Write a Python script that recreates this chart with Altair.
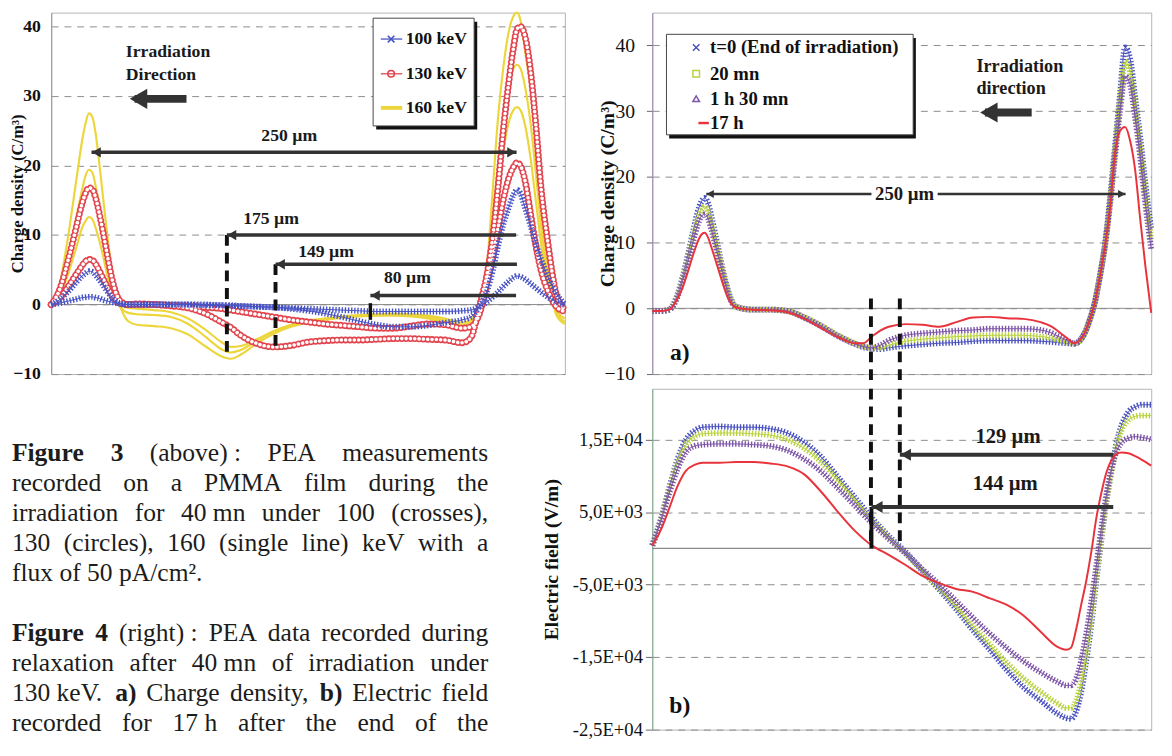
import altair as alt
import pandas as pd

FONT = "Liberation Serif"

# ------------------------------------------------------------------ Figure 3 (charge density during irradiation)
X3 = [0, 5, 10, 15, 18, 20, 22, 24, 26, 28, 30, 33, 36, 40, 45, 50, 60, 70, 80, 90,
      100, 105, 110, 120, 130, 140, 150, 160, 170, 180, 190, 200, 210, 220, 230, 240,
      245, 250, 255, 258, 261, 264, 267, 270, 272, 274, 277, 280, 283, 286, 290, 295, 300]

KEV100_A = [0, 0.7, 1.9, 3.3, 4.1, 4.5, 4.8, 4.7, 4.2, 3.6,
            2.9, 1.8, 0.9, 0.2, 0, 0, 0, 0, 0, -0.1,
            -0.1, -0.2, -0.2, -0.3, -0.4, -0.6, -0.9, -1.3, -1.8, -2.4,
            -2.9, -3.2, -3.2, -3.0, -2.6, -2.2, -1.8, -0.3, 2.3, 5,
            8.5, 11.5, 13.8, 15.8, 16.5, 16, 13.7, 11.3, 8.8, 6.6,
            4, 1.6, 0]
KEV100_B = [0, 0.2, 0.5, 0.8, 1.0, 1.05, 1.1, 1.1, 1.0, 0.9,
            0.7, 0.5, 0.3, 0.1, 0, 0, 0, 0, 0, 0,
            -0.1, -0.1, -0.2, -0.3, -0.4, -0.5, -0.6, -0.7, -0.8, -0.9,
            -1.0, -1.0, -1.0, -1.0, -1.0, -0.9, -0.8, -0.3, 0.5, 1.1,
            1.8, 2.6, 3.3, 3.9, 4.1, 4.0, 3.6, 3.0, 2.4, 1.8,
            1.1, 0.4, -0.1]
KEV130_A = [0, 2.2, 6.5, 11.5, 14.5, 16, 16.8, 16.6, 15.3, 13.2,
            10.8, 6.8, 3.2, 0.6, 0, 0.1, 0, -0.2, -0.5, -1.3,
            -2.6, -3.3, -4.3, -5.6, -6.1, -5.9, -5.4, -5.2, -5.1, -5.1,
            -5.0, -4.9, -4.9, -5.0, -5.1, -5.5, -4.8, -0.3, 5, 10,
            17, 25, 31.5, 37, 39.6, 40, 38.3, 33.5, 26, 17,
            9, 1.5, -0.7]
KEV130_B = [0, 0.9, 2.6, 4.5, 5.6, 6.2, 6.5, 6.4, 5.8, 4.9,
            3.9, 2.4, 1.1, 0.2, 0, 0, 0, -0.1, -0.2, -0.4,
            -0.6, -0.8, -1.0, -1.4, -1.8, -2.2, -2.5, -2.8, -3.0, -3.2,
            -3.4, -3.4, -3.1, -2.8, -2.9, -3.4, -3.2, -1.4, 3.5, 7,
            11, 15, 18, 19.8, 20.4, 20, 17.5, 13, 8.5, 5,
            2, -0.3, -1]
KEV160_A = [0, 3, 10, 18.5, 23.5, 26, 27.5, 27, 24.5, 20.5,
            16, 9.5, 4, 0, -2.4, -2.9, -3.1, -3.4, -4.3, -6.0,
            -7.5, -7.8, -7.3, -5.6, -4.2, -3.2, -2.6, -2.2, -1.9, -1.7,
            -1.6, -1.6, -1.7, -2.0, -2.7, -3.4, -3.0, -0.5, 7, 17,
            27, 34, 39, 41.5, 42, 41, 36, 31, 23, 14,
            5, -1.5, -2.8]
KEV160_B = [0, 2, 7, 13, 16.5, 18.5, 19.4, 19, 17, 14.5,
            11.5, 6.5, 2.5, -0.3, -1.2, -1.4, -1.5, -1.8, -2.8, -4.6,
            -6.5, -6.9, -6.6, -5.2, -3.9, -3.0, -2.4, -2.0, -1.8, -1.6,
            -1.5, -1.4, -1.5, -1.8, -2.3, -2.9, -2.5, -0.3, 5, 13,
            20, 26.5, 31.5, 34, 34.5, 34, 31, 26, 19, 11.5,
            4, -1, -2.5]
KEV160_C = [0, 1.3, 4.5, 8.5, 11, 12, 12.6, 12.3, 11, 9.3,
            7.3, 4, 1.5, 0, -0.5, -0.6, -0.8, -1.1, -2.0, -3.6,
            -5.5, -6.1, -6.0, -5.0, -3.8, -2.9, -2.3, -2.0, -1.7, -1.5,
            -1.4, -1.3, -1.4, -1.6, -2.0, -2.6, -2.2, 0, 4.5, 10.5,
            16.5, 22, 26, 28, 28.4, 28, 25.5, 21, 15, 9,
            3, -0.8, -2]
GROUPS3 = ["100 keV", "130 keV", "160 keV"]

# legend of figure 3 (data units)
LEG3_BOX = (188.0, 247.0, 41.2, 25.7)
LEG3_Y = [38.2, 33.2, 28.3]
LEG3_SYM_X = 198.5
LEG3_LINE_X = (192.5, 205.0)
LEG3_TEXT_X = 207.0

# annotations of figure 3 (data units: µm, C/m3)
ARROW3_TIP = [23.5, 102.6, 131.0, 186.4]
ARROW3_TAIL = [271.8, 271.5, 272.0, 271.5]
ARROW3_Y = [21.9, 10.0, 5.8, 1.3]
LABEL3_TEXT = ["250 µm", "175 µm", "149 µm", "80 µm"]
LABEL3_X = [139, 128.4, 160.5, 208]
LABEL3_Y = [24.2, 12.3, 7.6, 3.8]
DASH3_X = [102.6, 131.0]
DASH3_TOP = [10.0, 5.8]
DASH3_BOT = [-6.8, -6.5]
DIR3_TEXT = ["Irradiation", "Direction"]
DIR3_X = 43.6
DIR3_Y = [36.3, 33.0]
DIR3_ARROW = (48.7, 79.0, 29.6)

# ------------------------------------------------------------------ Figure 4 (relaxation, 130 keV)
X4 = [0, 5, 10, 15, 18, 21, 24, 27, 29, 31,
      33, 35, 37, 40, 43, 46, 50, 60, 70, 80,
      90, 100, 110, 120, 125, 130, 135, 140, 150, 160,
      170, 180, 190, 200, 210, 220, 230, 236, 240, 245,
      250, 253, 256, 259, 262, 265, 268, 271, 274, 277,
      280, 283, 286, 289, 292, 295.5]
RHO_T0 = [-0.4, -0.4, -0.2, 2.2, 4.8, 8, 11.5, 14.8, 16.2, 16.8,
          16, 14, 11.6, 8, 4.5, 1.8, 0.2, -0.2, -0.2, -0.4,
          -1.4, -2.7, -4.2, -5.4, -5.9, -6.1, -6.2, -6.0, -5.7, -5.5,
          -5.3, -5.2, -5.0, -4.9, -4.9, -4.9, -5.0, -5.1, -5.2, -5.3,
          -5.4, -5.0, -3.8, -1.8, 0.8, 4.8, 9.6, 16.5, 24.5, 32.5,
          39.7, 38, 32, 26, 19, 12]
RHO_20 = [-0.4, -0.4, -0.2, 2.0, 4.5, 7.5, 10.8, 13.8, 15.0, 15.5,
          14.8, 13, 10.8, 7.5, 4.2, 1.6, 0.2, -0.2, -0.2, -0.4,
          -1.3, -2.6, -4.1, -5.3, -5.8, -6.0, -6.0, -5.6, -5.0, -4.7,
          -4.5, -4.3, -4.2, -4.1, -4.1, -4.1, -4.3, -4.5, -4.8, -5.1,
          -5.4, -5.0, -3.8, -1.8, 0.8, 4.8, 9.5, 16, 24, 31.5,
          37.5, 36, 30.5, 24.5, 17.5, 10.5]
RHO_90 = [-0.4, -0.4, -0.2, 1.8, 4.2, 7, 10, 12.8, 14, 14.3,
          13.7, 12, 10, 7, 4, 1.5, 0.2, -0.2, -0.2, -0.4,
          -1.4, -2.7, -4.2, -5.4, -5.8, -6.0, -5.6, -4.9, -4.1, -3.8,
          -3.6, -3.4, -3.3, -3.1, -3.1, -3.1, -3.3, -3.7, -4.2, -4.8,
          -5.3, -4.9, -3.8, -1.8, 0.8, 4.7, 9.3, 15.5, 23, 30,
          35.3, 34, 29, 23, 16, 9]
RHO_17H = [-0.4, -0.4, -0.2, 1.5, 3.2, 5.5, 8, 10.2, 11.2, 11.5,
           10.8, 9.3, 7.7, 5.2, 2.8, 1.0, 0.1, -0.2, -0.3, -0.6,
           -1.6, -3.0, -4.4, -5.3, -5.3, -4.3, -3.4, -2.8, -2.4, -2.5,
           -2.8, -2.1, -1.4, -1.3, -1.5, -1.6, -2.1, -2.7, -3.4, -4.4,
           -5.3, -4.9, -3.8, -1.8, 0.8, 4.7, 9.3, 15, 23.5, 27,
           27.6, 25.5, 21, 13.5, 6.5, -0.7]

X4B = [0, 5, 10, 15, 20, 25, 30, 40, 50, 60,
       70, 80, 90, 100, 110, 120, 130, 140, 150, 160,
       170, 180, 190, 200, 210, 220, 230, 240, 245, 248,
       251, 254, 257, 260, 263, 266, 269, 272, 275, 278,
       282, 286, 290, 295.5]
FIELD_T0 = [400, 4000, 8300, 12300, 15000, 16200, 16700, 16800, 16700, 16700,
            16500, 15900, 14600, 12600, 9800, 7000, 4200, 1700, -500, -3100,
            -5700, -8400, -11300, -14000, -16800, -19200, -21000, -22800, -23400, -23500,
            -22500, -19800, -15500, -10500, -4300, 1300, 6600, 10800, 14600, 17000,
            18800, 19500, 19800, 19800]
FIELD_20 = [400, 3900, 8000, 11800, 14300, 15400, 15800, 15900, 15900, 15800,
            15600, 15000, 13800, 11900, 9300, 6600, 3900, 1500, -700, -3100,
            -5500, -8000, -10700, -13300, -15800, -18000, -19800, -21400, -22000, -22000,
            -21000, -18500, -14400, -9600, -3800, 1500, 6600, 10500, 14000, 16300,
            17700, 18200, 18300, 18300]
FIELD_90 = [400, 3700, 7600, 11000, 13300, 14100, 14300, 14400, 14400, 14300,
            14100, 13500, 12300, 10600, 8300, 5900, 3500, 1300, -700, -2900,
            -5000, -7300, -9600, -11800, -13800, -15600, -17100, -18400, -18900, -18900,
            -18000, -15500, -11800, -7500, -2400, 2800, 7500, 11000, 13400, 14600,
            15200, 15400, 15300, 15000]
FIELD_17H = [400, 2500, 5500, 8600, 10700, 11500, 11800, 11800, 11900, 11900,
             11700, 11300, 10200, 7800, 5000, 2400, 400, -900, -2300, -3800,
             -4800, -5600, -6000, -6900, -7800, -9300, -11500, -13600, -14000, -13700,
             -11200, -7800, -4500, -500, 4200, 7700, 10500, 12200, 13000, 13200,
             13100, 12700, 12200, 11400]
GROUPS4 = ["t=0 (End of irradiation)", "20 mn", "1 h 30 mn", "17 h"]

TICKS_4B = [-25000, -15000, -5000, 5000, 15000]
TICK_LABELS_4B = ["-2,5E+04", "-1,5E+04", "-5,0E+03", "5,0E+03", "1,5E+04"]

# legend of figure 4a (data units)
LEG4_BOX = (8.4, 154.5, 41.7, 26.4)
LEG4_Y = [39.7, 35.7, 31.9, 28.2]
LEG4_SYM_X = 26.0
LEG4_LINE_X = (27.3, 33.5)
LEG4_TEXT_X = 34.2

# annotations of figure 4
ARR4A_SEGS_X1 = [32.0, 169.0]
ARR4A_SEGS_X2 = [129.8, 280.3]
ARR4A_Y = 17.4
LAB4A = ("250 µm", 149.4, 17.4)
DIR4_TEXT = ["Irradiation", "direction"]
DIR4_X = 192.0
DIR4_Y = [36.9, 33.5]
DIR4_ARROW = (197.0, 224.7, 29.8)
DASH4_X = [129.5, 146.6]
ARR4B_TIP = [146.6, 129.8]
ARR4B_TAIL = [273.0, 273.0]
ARR4B_Y = [12900, 5700]
LAB4B_TEXT = ["129 µm", "144 µm"]
LAB4B_X = [210.7, 209.0]
LAB4B_Y = [15400, 8800]

# ------------------------------------------------------------------ caption text
CAPTION_LINES = [
    "*Figure *3 (above)~: PEA measurements",
    "recorded on a PMMA film during the",
    "irradiation for 40~mn under 100 (crosses),",
    "130 (circles), 160 (single line) keV with a",
    "flux of 50 pA/cm².",
    "*Figure *4 (right)~: PEA data recorded during",
    "relaxation after 40~mn of irradiation under",
    "130~keV. *a) Charge density, *b) Electric field",
    "recorded for 17~h after the end of the",
]
CAPTION_ROWS = [0, 1, 2, 3, 4, 6, 7, 8, 9]
CAPTION_JUSTIFY = [True, True, True, True, False, True, True, True, True]

# ------------------------------------------------------------------ helpers
C_BLUE3, C_RED3, C_YEL3 = "#4753c4", "#e2454e", "#ecd63c"
C4 = ["#4a52c0", "#b9d23f", "#7d55a8", "#e8333c"]
XPATH = "M-1,-1L1,1M-1,1L1,-1"
DARK = "#333333"
H3, H4A, H4B, W3, W4 = 368, 368, 347, 523, 508


def longform(xs, items):
    rows = []
    for grp, curve, vals in items:
        assert len(vals) == len(xs), (curve, len(vals), len(xs))
        for x, v in zip(xs, vals):
            rows.append({"x": x, "v": v, "group": grp, "curve": curve})
    return pd.DataFrame(rows)


df3 = longform(X3, [("100 keV", "b1", KEV100_A), ("100 keV", "b2", KEV100_B),
                    ("130 keV", "r1", KEV130_A), ("130 keV", "r2", KEV130_B),
                    ("160 keV", "y1", KEV160_A), ("160 keV", "y2", KEV160_B),
                    ("160 keV", "y3", KEV160_C)])
df4a = longform(X4, [(GROUPS4[0], "a", RHO_T0), (GROUPS4[1], "b", RHO_20),
                     (GROUPS4[2], "c", RHO_90), (GROUPS4[3], "d", RHO_17H)])
df4b = longform(X4B, [(GROUPS4[0], "a", FIELD_T0), (GROUPS4[1], "b", FIELD_20),
                      (GROUPS4[2], "c", FIELD_90), (GROUPS4[3], "d", FIELD_17H)])


def legend_box(xf, yf, box, dx, dy):
    x1, x2, y1, y2 = box
    shadow = alt.Chart(pd.DataFrame({"x": [x1 + dx], "x2": [x2 + dx], "y": [y1 - dy], "y2": [y2 - dy]})).mark_rect(
        color="#111").encode(x=xf("x:Q"), x2=alt.X2("x2"), y=yf("y:Q"), y2=alt.Y2("y2"))
    face = alt.Chart(pd.DataFrame({"x": [x1], "x2": [x2], "y": [y1], "y2": [y2]})).mark_rect(
        fill="white", stroke="#444", strokeWidth=1).encode(x=xf("x:Q"), x2=alt.X2("x2"), y=yf("y:Q"), y2=alt.Y2("y2"))
    return [shadow, face]


# ------------------------------------------------------------------ figure 3 chart
def X3e(field="x:Q"):
    return alt.X(field, scale=alt.Scale(domain=[0, 300], nice=False, zero=False), axis=None)


AX3 = alt.Axis(values=[-10, 0, 10, 20, 30, 40], labelFont=FONT, labelFontSize=18,
               labelFontWeight="bold", labelColor="#111", labelPadding=11, ticks=False,
               domainColor="#7f9aa8", grid=True, gridDash=[7, 6], gridColor="#8c8c8c",
               title="Charge density (C/m³)", titleFont=FONT, titleFontSize=17,
               titleFontWeight="bold", titleColor="#111", titleX=-34,
               titleAngle=270, titleAlign="center", titleBaseline="middle")


def Y3e(field="v:Q"):
    return alt.Y(field, scale=alt.Scale(domain=[-10, 42], nice=False, zero=False), axis=AX3)


zero3 = alt.Chart(pd.DataFrame({"y": [0]})).mark_rule(color="#8a8a8a", strokeWidth=1).encode(y=Y3e("y:Q"))
yel = alt.Chart(df3[df3.group == "160 keV"]).mark_line(
    color=C_YEL3, strokeWidth=2.2, interpolate="monotone").encode(x=X3e(), y=Y3e(), detail="curve:N")
red_dots = alt.Chart(df3[df3.group == "130 keV"]).mark_line(
    color=C_RED3, strokeWidth=7, strokeDash=[0.1, 4.3], strokeCap="round",
    interpolate="monotone").encode(x=X3e(), y=Y3e(), detail="curve:N")
red_holes = alt.Chart(df3[df3.group == "130 keV"]).mark_line(
    color="white", strokeWidth=3.6, strokeDash=[0.1, 4.3], strokeCap="round",
    interpolate="monotone").encode(x=X3e(), y=Y3e(), detail="curve:N")
blue_band = alt.Chart(df3[df3.group == "100 keV"]).mark_line(
    color=C_BLUE3, strokeWidth=6, strokeDash=[1.4, 1.8],
    interpolate="monotone").encode(x=X3e(), y=Y3e(), detail="curve:N")
blue_line = alt.Chart(df3[df3.group == "100 keV"]).mark_line(
    color=C_BLUE3, strokeWidth=1, interpolate="monotone").encode(x=X3e(), y=Y3e(), detail="curve:N")

leg3_df = pd.DataFrame({"k": GROUPS3, "y": LEG3_Y, "x": [LEG3_SYM_X] * 3,
                        "x1": [LEG3_LINE_X[0]] * 3, "x2": [LEG3_LINE_X[1]] * 3, "tx": [LEG3_TEXT_X] * 3})
leg3_color = alt.Color("k:N", scale=alt.Scale(domain=GROUPS3, range=[C_BLUE3, C_RED3, C_YEL3]), legend=None)
leg3_lines = alt.Chart(leg3_df.iloc[:2]).mark_rule(strokeWidth=1.3).encode(
    x=X3e("x1:Q"), x2=alt.X2("x2"), y=Y3e("y:Q"), color=leg3_color)
leg3_yline = alt.Chart(leg3_df.iloc[[2]]).mark_rule(strokeWidth=4, color=C_YEL3).encode(
    x=X3e("x1:Q"), x2=alt.X2("x2"), y=Y3e("y:Q"))
leg3_syms = alt.Chart(leg3_df.iloc[:2]).mark_point(filled=False, size=45, strokeWidth=1.6, opacity=1).encode(
    x=X3e("x:Q"), y=Y3e("y:Q"), color=leg3_color,
    shape=alt.Shape("k:N", scale=alt.Scale(domain=GROUPS3[:2], range=[XPATH, "circle"]), legend=None))
leg3_text = alt.Chart(leg3_df).mark_text(font=FONT, fontSize=18, fontWeight="bold", color="#111",
                                         align="left", baseline="middle").encode(
    x=X3e("tx:Q"), y=Y3e("y:Q"), text="k:N")

dash3_df = pd.DataFrame({"x": DASH3_X, "y": DASH3_TOP, "y2": DASH3_BOT})
dash3 = alt.Chart(dash3_df).mark_rule(color="#111", strokeWidth=4, strokeDash=[11, 7]).encode(
    x=X3e(), y=Y3e("y:Q"), y2=alt.Y2("y2"))
short3 = alt.Chart(pd.DataFrame({"x": [ARROW3_TIP[3]], "y": [0.2], "y2": [-2.2]})).mark_rule(
    color="#111", strokeWidth=3.5).encode(x=X3e(), y=Y3e("y:Q"), y2=alt.Y2("y2"))
arr3_df = pd.DataFrame({"tip": ARROW3_TIP, "tail": ARROW3_TAIL, "y": ARROW3_Y})
arr3 = alt.Chart(arr3_df).mark_rule(color=DARK, strokeWidth=3.5).encode(
    x=X3e("tip:Q"), x2=alt.X2("tail"), y=Y3e("y:Q"))
head3 = alt.Chart(arr3_df).mark_point(shape="triangle-left", filled=True, size=110, color=DARK,
                                      opacity=1, xOffset=5).encode(x=X3e("tip:Q"), y=Y3e("y:Q"))
head3r = alt.Chart(arr3_df.iloc[[0]]).mark_point(shape="triangle-right", filled=True, size=110, color=DARK,
                                                 opacity=1, xOffset=-5).encode(x=X3e("tail:Q"), y=Y3e("y:Q"))
lab3 = alt.Chart(pd.DataFrame({"t": LABEL3_TEXT, "x": LABEL3_X, "y": LABEL3_Y})).mark_text(
    font=FONT, fontSize=18, fontWeight="bold", color="#1a1a1a", baseline="middle").encode(
    x=X3e(), y=Y3e("y:Q"), text="t:N")
dir3 = alt.Chart(pd.DataFrame({"t": DIR3_TEXT, "x": [DIR3_X] * 2, "y": DIR3_Y})).mark_text(
    font=FONT, fontSize=18, fontWeight="bold", color="#1a1a1a", align="left", baseline="middle").encode(
    x=X3e(), y=Y3e("y:Q"), text="t:N")
dir3_df = pd.DataFrame({"tip": [DIR3_ARROW[0]], "tail": [DIR3_ARROW[1]], "y": [DIR3_ARROW[2]]})
dir3_shaft = alt.Chart(dir3_df).mark_rule(color=DARK, strokeWidth=8).encode(
    x=X3e("tip:Q"), x2=alt.X2("tail"), y=Y3e("y:Q"))
dir3_head = alt.Chart(dir3_df).mark_point(shape="triangle-left", filled=True, size=420, color=DARK,
                                          opacity=1, xOffset=4).encode(x=X3e("tip:Q"), y=Y3e("y:Q"))

fig3 = alt.layer(zero3, yel, red_dots, red_holes, blue_band, blue_line, dash3, short3,
                 arr3, head3, head3r, lab3, dir3, dir3_shaft, dir3_head,
                 *legend_box(X3e, Y3e, LEG3_BOX, 1.8, 0.5), leg3_lines, leg3_yline, leg3_syms,
                 leg3_text).properties(width=W3, height=H3, view=alt.ViewBackground(stroke="#b4b4b4"))

# ------------------------------------------------------------------ caption chart
REG = {" ": 250, "\u00a0": 250, "(": 333, ")": 333, ",": 250, ".": 250, "/": 278, ":": 278, "²": 300}
REG.update(dict(zip("abcdefghijklmnopqrstuvwxyz",
                    [444, 500, 444, 500, 444, 333, 500, 500, 278, 278, 500, 278, 778, 500, 500, 500,
                     500, 333, 389, 278, 500, 500, 722, 500, 500, 444])))
REG.update(dict(zip("ABCDEFGHIJKLMNOPQRSTUVWXYZ",
                    [722, 667, 667, 722, 611, 556, 722, 722, 333, 389, 722, 611, 889, 722, 722, 556,
                     722, 667, 556, 611, 722, 722, 944, 722, 722, 611])))
BOLD = dict(REG)
BOLD.update(dict(zip("abcdefghijklmnopqrstuvwxyz",
                     [500, 556, 444, 556, 444, 333, 500, 556, 278, 333, 556, 278, 833, 556, 500, 556,
                      556, 444, 389, 333, 556, 500, 722, 500, 500, 444])))
BOLD.update({"F": 611})
CAP_SIZE = 26
CAP_W = 485


def text_width(s, bold):
    table = BOLD if bold else REG
    return sum(table.get(ch, 500) for ch in s) * CAP_SIZE / 1000.0


cap_rows = []
for line, row, just in zip(CAPTION_LINES, CAPTION_ROWS, CAPTION_JUSTIFY):
    toks = []
    for tok in line.split(" "):
        bold = tok.startswith("*")
        word = tok.lstrip("*").replace("~", "\u00a0")
        toks.append((word, bold))
    widths = [text_width(w, b) for w, b in toks]
    space = text_width(" ", False)
    if just and len(toks) > 1:
        space = (CAP_W - sum(widths)) / (len(toks) - 1)
    pos = 0.0
    for (w, b), wd in zip(toks, widths):
        cap_rows.append({"x": pos, "row": row, "t": w, "bold": b})
        pos += wd + space
cap_df = pd.DataFrame(cap_rows)

CAP_TOP, CAP_H = 8 + H3 + 9, 348
CAP_LINE0, CAP_LEAD = 455, 30.5
cap_y = alt.Y("row:Q", scale=alt.Scale(domain=[(CAP_TOP - CAP_LINE0) / CAP_LEAD,
                                               (CAP_TOP + CAP_H - CAP_LINE0) / CAP_LEAD],
                                       reverse=True, nice=False, zero=False), axis=None)
cap_x = alt.X("x:Q", scale=alt.Scale(domain=[0, CAP_W], nice=False, zero=False), axis=None)
cap_norm = alt.Chart(cap_df[~cap_df.bold]).mark_text(
    font=FONT, fontSize=CAP_SIZE, color="#1c1c1c", align="left", baseline="middle", dx=-40).encode(
    x=cap_x, y=cap_y, text="t:N")
cap_bold = alt.Chart(cap_df[cap_df.bold]).mark_text(
    font=FONT, fontSize=CAP_SIZE, fontWeight="bold", color="#1c1c1c", align="left", baseline="middle",
    dx=-40).encode(x=cap_x, y=cap_y, text="t:N")
caption = alt.layer(cap_norm, cap_bold).properties(
    width=CAP_W, height=CAP_H, view=alt.ViewBackground(stroke="transparent"))

# ------------------------------------------------------------------ figure 4 charts
def X4e(field="x:Q"):
    return alt.X(field, scale=alt.Scale(domain=[0, 295.5], nice=False, zero=False), axis=None)


AX4A = alt.Axis(values=[-10, 0, 10, 20, 30, 40], labelFont=FONT, labelFontSize=20, labelColor="#111",
                labelPadding=12, ticks=True, tickSize=6, tickColor="#666", domainColor="#9a88b0",
                grid=True, gridDash=[7, 6], gridColor="#8c8c8c", title="Charge density (C/m³)",
                titleFont=FONT, titleFontSize=20, titleFontWeight="bold", titleColor="#111",
                titleX=-46, titleAngle=270, titleAlign="center", titleBaseline="middle")
label_expr = " : ".join(f"datum.value == {v} ? '{l}'" for v, l in zip(TICKS_4B, TICK_LABELS_4B)) + " : ''"
AX4B = alt.Axis(values=TICKS_4B, labelExpr=label_expr, labelFont=FONT, labelFontSize=19, labelColor="#111",
                labelPadding=3, ticks=True, tickSize=7, tickColor="#666", domainColor="#7fae8c",
                grid=True, gridDash=[7, 6], gridColor="#8c8c8c", title="Electric field (V/m)",
                titleFont=FONT, titleFontSize=20, titleFontWeight="bold", titleColor="#111",
                titleX=-103, titleAngle=270, titleAlign="center", titleBaseline="middle")


def Y4a(field="v:Q"):
    return alt.Y(field, scale=alt.Scale(domain=[-10, 45], nice=False, zero=False), axis=AX4A)


def Y4b(field="v:Q"):
    return alt.Y(field, scale=alt.Scale(domain=[-25000, 22000], nice=False, zero=False), axis=AX4B)


def series_layers(df, yfun):
    layers = []
    for grp, col in zip(GROUPS4[:3], C4[:3]):
        sub = df[df.group == grp]
        layers.append(alt.Chart(sub).mark_line(color=col, strokeWidth=6, strokeDash=[1.4, 1.8],
                                               interpolate="monotone").encode(x=X4e(), y=yfun()))
        layers.append(alt.Chart(sub).mark_line(color=col, strokeWidth=1,
                                               interpolate="monotone").encode(x=X4e(), y=yfun()))
    layers.append(alt.Chart(df[df.group == GROUPS4[3]]).mark_line(
        color=C4[3], strokeWidth=2, interpolate="monotone").encode(x=X4e(), y=yfun()))
    return layers


leg4_df = pd.DataFrame({"k": GROUPS4, "y": LEG4_Y, "x": [LEG4_SYM_X] * 4,
                        "x1": [LEG4_LINE_X[0]] * 4, "x2": [LEG4_LINE_X[1]] * 4, "tx": [LEG4_TEXT_X] * 4})
leg4_syms = alt.Chart(leg4_df.iloc[:3]).mark_point(filled=False, size=45, strokeWidth=1.5, opacity=1).encode(
    x=X4e("x:Q"), y=Y4a("y:Q"),
    color=alt.Color("k:N", scale=alt.Scale(domain=GROUPS4[:3], range=C4[:3]), legend=None),
    shape=alt.Shape("k:N", scale=alt.Scale(domain=GROUPS4[:3], range=[XPATH, "square", "triangle-up"]),
                    legend=None))
leg4_line = alt.Chart(leg4_df.iloc[[3]]).mark_rule(color=C4[3], strokeWidth=2.5).encode(
    x=X4e("x1:Q"), x2=alt.X2("x2"), y=Y4a("y:Q"))
leg4_text = alt.Chart(leg4_df).mark_text(font=FONT, fontSize=19, fontWeight="bold", color="#111",
                                         align="left", baseline="middle").encode(
    x=X4e("tx:Q"), y=Y4a("y:Q"), text="k:N")

zero4a = alt.Chart(pd.DataFrame({"y": [0]})).mark_rule(color="#8a8a8a", strokeWidth=1).encode(y=Y4a("y:Q"))
seg4a_df = pd.DataFrame({"x": ARR4A_SEGS_X1, "x2": ARR4A_SEGS_X2, "y": [ARR4A_Y] * 2})
seg4a = alt.Chart(seg4a_df).mark_rule(color=DARK, strokeWidth=2.5).encode(
    x=X4e(), x2=alt.X2("x2"), y=Y4a("y:Q"))
h4l = alt.Chart(seg4a_df.iloc[[0]]).mark_point(shape="triangle-left", filled=True, size=70, color=DARK,
                                               opacity=1, xOffset=4).encode(x=X4e(), y=Y4a("y:Q"))
h4r = alt.Chart(seg4a_df.iloc[[1]]).mark_point(shape="triangle-right", filled=True, size=70, color=DARK,
                                               opacity=1, xOffset=-4).encode(x=X4e("x2:Q"), y=Y4a("y:Q"))
lab4a = alt.Chart(pd.DataFrame({"t": [LAB4A[0]], "x": [LAB4A[1]], "y": [LAB4A[2]]})).mark_text(
    font=FONT, fontSize=19, fontWeight="bold", color="#1a1a1a", baseline="middle").encode(
    x=X4e(), y=Y4a("y:Q"), text="t:N")
dir4 = alt.Chart(pd.DataFrame({"t": DIR4_TEXT, "x": [DIR4_X] * 2, "y": DIR4_Y})).mark_text(
    font=FONT, fontSize=18.5, fontWeight="bold", color="#1a1a1a", align="left", baseline="middle").encode(
    x=X4e(), y=Y4a("y:Q"), text="t:N")
dir4_df = pd.DataFrame({"tip": [DIR4_ARROW[0]], "tail": [DIR4_ARROW[1]], "y": [DIR4_ARROW[2]]})
dir4_shaft = alt.Chart(dir4_df).mark_rule(color=DARK, strokeWidth=8).encode(
    x=X4e("tip:Q"), x2=alt.X2("tail"), y=Y4a("y:Q"))
dir4_head = alt.Chart(dir4_df).mark_point(shape="triangle-left", filled=True, size=420, color=DARK,
                                          opacity=1, xOffset=4).encode(x=X4e("tip:Q"), y=Y4a("y:Q"))
dash4a = alt.Chart(pd.DataFrame({"x": DASH4_X, "y": [1.5, 1.5], "y2": [-11.3, -11.3]})).mark_rule(
    color="#111", strokeWidth=4, strokeDash=[11, 7]).encode(x=X4e(), y=Y4a("y:Q"), y2=alt.Y2("y2"))
tag_a = alt.Chart(pd.DataFrame({"t": ["a)"], "x": [16.3], "y": [-6.8]})).mark_text(
    font=FONT, fontSize=24, fontWeight="bold", color="#111", baseline="middle").encode(
    x=X4e(), y=Y4a("y:Q"), text="t:N")

fig4a = alt.layer(zero4a, *series_layers(df4a, Y4a), dash4a, seg4a, h4l, h4r, lab4a,
                  dir4, dir4_shaft, dir4_head, tag_a,
                  *legend_box(X4e, Y4a, LEG4_BOX, 1.6, 0.55), leg4_syms, leg4_line, leg4_text).properties(
    width=W4, height=H4A, view=alt.ViewBackground(stroke="#b4b4b4"))

zero4b = alt.Chart(pd.DataFrame({"y": [0]})).mark_rule(color="#8a8a8a", strokeWidth=1.2).encode(y=Y4b("y:Q"))
dash4b = alt.Chart(pd.DataFrame({"x": DASH4_X, "y": [22000, 22000], "y2": [0, 0]})).mark_rule(
    color="#111", strokeWidth=4, strokeDash=[11, 7]).encode(x=X4e(), y=Y4b("y:Q"), y2=alt.Y2("y2"))
short4b = alt.Chart(pd.DataFrame({"x": [ARR4B_TIP[1]], "y": [ARR4B_Y[1]], "y2": [0]})).mark_rule(
    color="#111", strokeWidth=4).encode(x=X4e(), y=Y4b("y:Q"), y2=alt.Y2("y2"))
arr4b_df = pd.DataFrame({"tip": ARR4B_TIP, "tail": ARR4B_TAIL, "y": ARR4B_Y})
arr4b = alt.Chart(arr4b_df).mark_rule(color=DARK, strokeWidth=4).encode(
    x=X4e("tip:Q"), x2=alt.X2("tail"), y=Y4b("y:Q"))
head4b = alt.Chart(arr4b_df).mark_point(shape="triangle-left", filled=True, size=150, color=DARK,
                                        opacity=1, xOffset=6).encode(x=X4e("tip:Q"), y=Y4b("y:Q"))
lab4b = alt.Chart(pd.DataFrame({"t": LAB4B_TEXT, "x": LAB4B_X, "y": LAB4B_Y})).mark_text(
    font=FONT, fontSize=21, fontWeight="bold", color="#1a1a1a", baseline="middle").encode(
    x=X4e(), y=Y4b("y:Q"), text="t:N")
tag_b = alt.Chart(pd.DataFrame({"t": ["b)"], "x": [16.3], "y": [-21800]})).mark_text(
    font=FONT, fontSize=24, fontWeight="bold", color="#111", baseline="middle").encode(
    x=X4e(), y=Y4b("y:Q"), text="t:N")

fig4b = alt.layer(zero4b, *series_layers(df4b, Y4b), dash4b, short4b, arr4b, head4b, lab4b, tag_b).properties(
    width=W4, height=H4B, view=alt.ViewBackground(stroke="#b4b4b4"))

left = alt.vconcat(fig3, caption, spacing=0)
right = alt.vconcat(fig4a, fig4b, spacing=0)
chart = alt.hconcat(left, right, spacing=-40,
                    padding={"top": -7, "left": 0, "right": 0, "bottom": 0}).resolve_scale(
    color="independent", shape="independent")

chart.save("out.html", embed_options={"renderer": "svg", "actions": False})
